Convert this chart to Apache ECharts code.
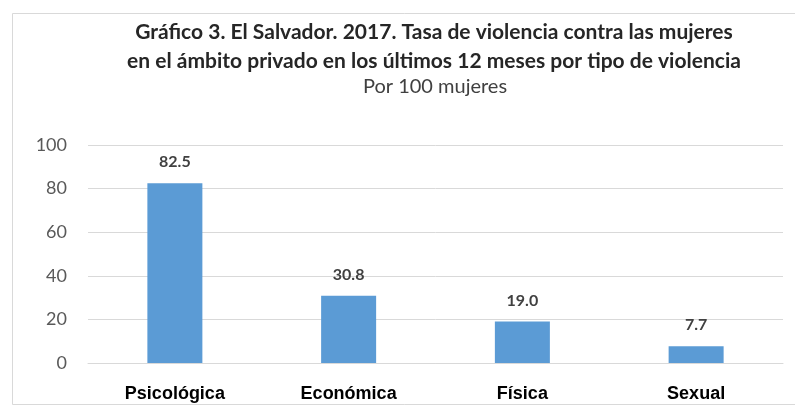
<!DOCTYPE html>
<html>
<head>
<meta charset="utf-8">
<script src="https://cdn.jsdelivr.net/npm/echarts@6/dist/echarts.min.js"></script>
<style>html,body{margin:0;padding:0;background:#fff;}#c{width:795px;height:414px;}</style>
</head>
<body>
<div id="c"></div>
<script>
const categories = ['Psicológica', 'Económica', 'Física', 'Sexual'];
const values = [82.5, 30.8, 19.0, 7.7];
const yTicks = [0, 20, 40, 60, 80, 100];
const titleLines = ['Gráfico 3. El Salvador. 2017. Tasa de violencia contra las mujeres', 'en el ámbito privado en los últimos 12 meses por tipo de violencia'];
const subtitle = 'Por 100 mujeres';

const chart = echarts.init(document.getElementById('c'), null, {renderer: 'canvas'});
chart.setOption({
  animation: false,
  backgroundColor: '#fff',
  graphic: [{
    type: 'rect', shape: {x: 12.5, y: 13.5, width: 800, height: 391},
    style: {fill: 'none', stroke: '#d9d9d9', lineWidth: 1}, silent: true
  }],
  title: [{
    text: titleLines.join('\n'),
    left: 429, top: 13, textAlign: 'center',
    textStyle: {fontFamily: 'Lato', fontWeight: 'bold', fontSize: 21, lineHeight: 29, color: '#262626'}
  }, {
    text: subtitle,
    left: 430, top: 70, textAlign: 'center',
    textStyle: {fontFamily: 'Lato', fontWeight: 'normal', fontSize: 20, lineHeight: 24, color: '#404040'}
  }],
  grid: {left: 88, right: 12, top: 145, bottom: 51},
  xAxis: {
    type: 'category', data: categories,
    axisLine: {show: true, lineStyle: {color: '#d9d9d9'}},
    axisTick: {show: false},
    axisLabel: {fontFamily: 'Liberation Sans', fontWeight: 'bold', fontSize: 18, color: '#000', margin: 22}
  },
  yAxis: {
    type: 'value', min: yTicks[0], max: yTicks[yTicks.length - 1], interval: 20,
    axisLine: {show: false}, axisTick: {show: false},
    splitLine: {lineStyle: {color: '#d9d9d9'}},
    axisLabel: {fontFamily: 'Lato', fontSize: 18, color: '#595959', margin: 21}
  },
  series: [{
    type: 'bar', data: values, barWidth: 55,
    itemStyle: {color: '#5b9bd5'},
    label: {show: true, position: 'top', distance: 13, formatter: p => p.value.toFixed(1),
      fontFamily: 'Lato', fontWeight: 'bold', fontSize: 16, color: '#404040'}
  }]
});
</script>
</body>
</html>
